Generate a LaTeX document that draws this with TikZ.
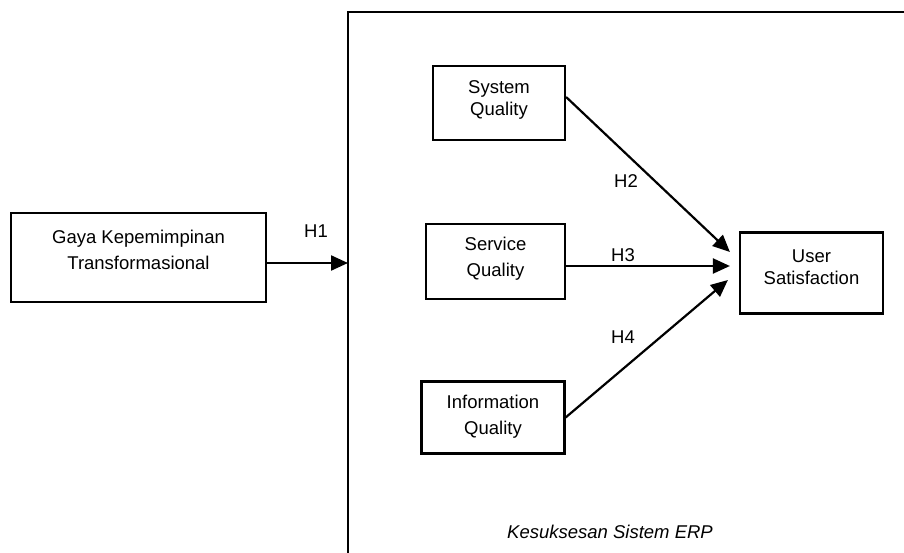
\documentclass[tikz,border=0pt]{standalone}
\usepackage{fontspec}
\setmainfont{Liberation Sans}
\usetikzlibrary{arrows.meta,calc}
\begin{document}
\begin{tikzpicture}[x=1pt,y=-1pt,
  box/.style={draw=black,line width=2.2pt,rectangle,inner sep=0pt},
  txt/.style={font=\fontsize{18.5}{26}\selectfont,align=center,text=black},
  txtb/.style={font=\fontsize{18.5}{22}\selectfont,align=center,text=black},
  arr/.style={line width=2.2pt,-{Triangle[length=17pt,width=15pt]}},
  hlab/.style={font=\fontsize{18.5}{22}\selectfont,text=black,inner sep=0pt}]
\useasboundingbox (0,0) rectangle (904,553);
% big ERP frame (only top and left sides visible)
\coordinate (erp) at (348,12);
\draw[line width=2.2pt] (348,560) -- (erp) -- (912,12);
\node[txt,font=\fontsize{18.5}{22}\selectfont\itshape] (erplab) at (610,532) {Kesuksesan Sistem ERP};
% boxes
\node[box,minimum width=255pt,minimum height=89pt,
  label={[txt,yshift=8pt]center:Gaya Kepemimpinan\\Transformasional}] (gaya) at (138.5,257.5) {};
\node[box,minimum width=132pt,minimum height=74pt,
  label={[txtb,yshift=3pt]center:System\\Quality}] (sys) at (499,103) {};
\node[box,minimum width=139pt,minimum height=75pt,
  label={[txt,yshift=2.5pt]center:Service\\Quality}] (ser) at (495.5,261.5) {};
\node[box,minimum width=143pt,minimum height=72pt,
  label={[txt,yshift=1pt]center:Information\\Quality}] (inf) at (493,417.5) {};
\node[box,minimum width=143pt,minimum height=81pt,
  label={[txtb,yshift=5.5pt]center:User\\Satisfaction}] (us) at (811.5,273) {};
% arrows
\draw[arr] ([yshift=-5.5pt]gaya.east) -- ([yshift=-5.5pt]gaya.east -| erp);
\draw[arr] ([yshift=6pt]sys.east) -- ([xshift=-9pt,yshift=21pt]us.west);
\draw[arr] ([yshift=-4.5pt]ser.east) -- ([xshift=-9pt,yshift=7pt]us.west);
\draw[arr] (inf.east) -- ([xshift=-11pt,yshift=-7pt]us.west);
% hypothesis labels
\node[hlab] (h1) at (316,231) {H1};
\node[hlab] (h2) at (626,181) {H2};
\node[hlab] (h3) at (623,255) {H3};
\node[hlab] (h4) at (623,337) {H4};
\end{tikzpicture}
\end{document}
